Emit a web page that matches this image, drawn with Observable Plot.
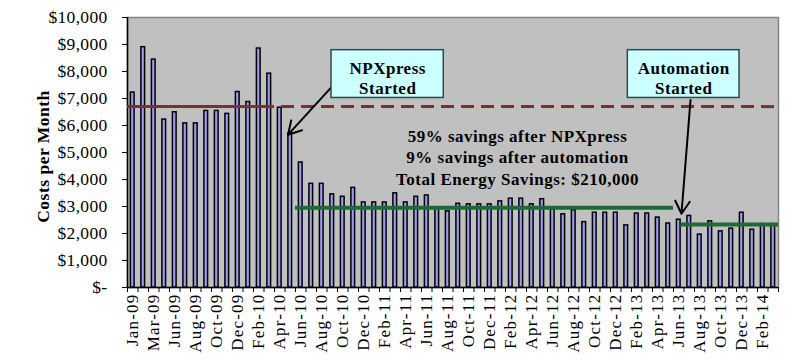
<!DOCTYPE html>
<html><head><meta charset="utf-8">
<script src="https://cdn.jsdelivr.net/npm/d3@7"></script>
<script src="https://cdn.jsdelivr.net/npm/@observablehq/plot@0.6"></script>
<style>
body{margin:0;background:#fff;}
#chart svg text{letter-spacing:0.5px;}
</style></head><body><div id="chart"></div>
<script>
// ---- data ----
const months = ["Jan-09","Feb-09","Mar-09","Apr-09","Jun-09","Jul-09","Aug-09","Sep-09","Oct-09","Nov-09","Dec-09",
  "Jan-10","Feb-10","Mar-10","Apr-10","May-10","Jun-10","Jul-10","Aug-10","Sep-10","Oct-10","Nov-10","Dec-10",
  "Jan-11","Feb-11","Mar-11","Apr-11","May-11","Jun-11","Jul-11","Aug-11","Sep-11","Oct-11","Nov-11","Dec-11",
  "Jan-12","Feb-12","Mar-12","Apr-12","May-12","Jun-12","Jul-12","Aug-12","Sep-12","Oct-12","Nov-12","Dec-12",
  "Jan-13","Feb-13","Mar-13","Apr-13","May-13","Jun-13","Jul-13","Aug-13","Sep-13","Oct-13","Nov-13","Dec-13",
  "Jan-14","Feb-14","Mar-14"];
const costs = [7220,8900,8440,6220,6490,6080,6080,6540,6540,6430,7240,
  6870,8850,7920,6660,5710,4630,3840,3840,3450,3360,3690,3150,
  3150,3150,3490,3150,3360,3410,2950,2820,3100,3080,3080,3080,
  3190,3290,3290,3080,3270,2900,2710,2860,2420,2770,2770,2770,
  2300,2740,2740,2590,2370,2510,2650,1960,2450,2080,2180,2770,
  2140,2350,2350];
const tickLabels = ["Jan-09","Mar-09","Jun-09","Aug-09","Oct-09","Dec-09","Feb-10","Apr-10","Jun-10","Aug-10",
  "Oct-10","Dec-10","Feb-11","Apr-11","Jun-11","Aug-11","Oct-11","Dec-11","Feb-12","Apr-12","Jun-12","Aug-12",
  "Oct-12","Dec-12","Feb-13","Apr-13","Jun-13","Aug-13","Oct-13","Dec-13","Feb-14"];
const yTicks = [0,1000,2000,3000,4000,5000,6000,7000,8000,9000,10000];
const baselineCost = 6700;
const afterNpxCost = 2950;
const afterAutoCost = 2330;
const noteLines = ["59% savings after NPXpress","9% savings after automation","Total Energy Savings: $210,000"];
const npxLabel = ["NPXpress","Started"];
const autoLabel = ["Automation","Started"];
const yTitle = "Costs per Month";

// ---- chart ----
const data = months.map((m, i) => ({month: m, i, cost: costs[i]}));
const labelPos = tickLabels.map(l => months.indexOf(l) + 0.5);
const boundaries = d3.range(0, months.length + 1);
const serif = "'Liberation Serif', 'Times New Roman', serif";
const fmt = d => d === 0 ? "$-" : "$" + d3.format(",")(d);
const one = [0];

const chart = Plot.plot({
  width: 808, height: 363,
  marginLeft: 127, marginRight: 30, marginTop: 17, marginBottom: 76,
  style: {fontFamily: serif, fontSize: "17px", color: "black", background: "white", overflow: "visible"},
  x: {type: "linear", domain: [0, months.length]},
  y: {domain: [0, 10000]},
  marks: [
    Plot.frame({fill: "#c0c0c0", stroke: "#858585", strokeWidth: 1.5}),
    Plot.rectY(data, {x1: "i", x2: d => d.i + 1, y: "cost", insetLeft: 3.4, insetRight: 3.4,
      fill: "#9c9cf0", stroke: "black", strokeWidth: 1.5}),
    Plot.ruleX([0], {stroke: "black", strokeWidth: 1.5}),
    Plot.ruleY([0], {stroke: "black", strokeWidth: 1.5}),
    Plot.ruleY([baselineCost], {x1: 0, x2: 14, stroke: "#7a3030", strokeWidth: 3}),
    Plot.ruleY([baselineCost], {x1: 14, x2: months.length, stroke: "#7a3030", strokeWidth: 3,
      strokeDasharray: "13,7", strokeDashoffset: 13}),
    Plot.ruleY([afterNpxCost], {x1: 16, x2: 52, stroke: "#1d6b32", strokeWidth: 4}),
    Plot.ruleY([afterAutoCost], {x1: 52.7, x2: months.length, stroke: "#1d6b32", strokeWidth: 4}),
    Plot.arrow(one, {x1: 19.43, y1: 7420, x2: 15.29, y2: 5660, stroke: "black", strokeWidth: 2, headLength: 11}),
    Plot.arrow(one, {x1: 53.62, y1: 6940, x2: 52.76, y2: 2730, stroke: "black", strokeWidth: 2, headLength: 11}),
    Plot.rect(one, {x1: 19.43, x2: 30.12, y1: 7020, y2: 8790, fill: "#ccffff", stroke: "#2d4a4a", strokeWidth: 1.5}),
    Plot.rect(one, {x1: 47.65, x2: 58.29, y1: 7020, y2: 8790, fill: "#ccffff", stroke: "#2d4a4a", strokeWidth: 1.5}),
    Plot.text([npxLabel.join("\n")], {x: 24.78, y: 7780, text: d => d, fontWeight: "bold", fontSize: 17, lineHeight: 1.18}),
    Plot.text([autoLabel.join("\n")], {x: 52.97, y: 7780, text: d => d, fontWeight: "bold", fontSize: 17, lineHeight: 1.18}),
    Plot.text([noteLines.join("\n")], {x: 37.14, y: 4850, text: d => d, fontWeight: "bold", fontSize: 17, lineHeight: 1.25}),
    Plot.text([yTitle], {frameAnchor: "left", textAnchor: "middle", dx: -84, dy: 4, rotate: -90, text: d => d,
      fontWeight: "bold", fontSize: 17.5}),
    Plot.axisY({ticks: yTicks, tickFormat: fmt, tickSize: 5, tickPadding: 15, label: null, fontSize: 17}),
    Plot.axisX({ticks: boundaries, tickSize: 5, tickFormat: () => "", label: null}),
    Plot.axisX({ticks: labelPos, tickSize: 0, tickPadding: 6, tickRotate: -90, label: null, fontSize: 17,
      tickFormat: d => months[Math.round(d - 0.5)]})
  ]
});
document.getElementById("chart").append(chart);
d3.select(chart).selectAll('[aria-label="x-axis tick label"] text').style("letter-spacing", "1.2px");
d3.select(chart).selectAll('[aria-label="y-axis tick label"]').style("font-size", "17.5px");
d3.select(chart).selectAll('[aria-label="y-axis tick label"] text').style("font-size", "17.5px").style("letter-spacing", "0.3px");
</script></body></html>
